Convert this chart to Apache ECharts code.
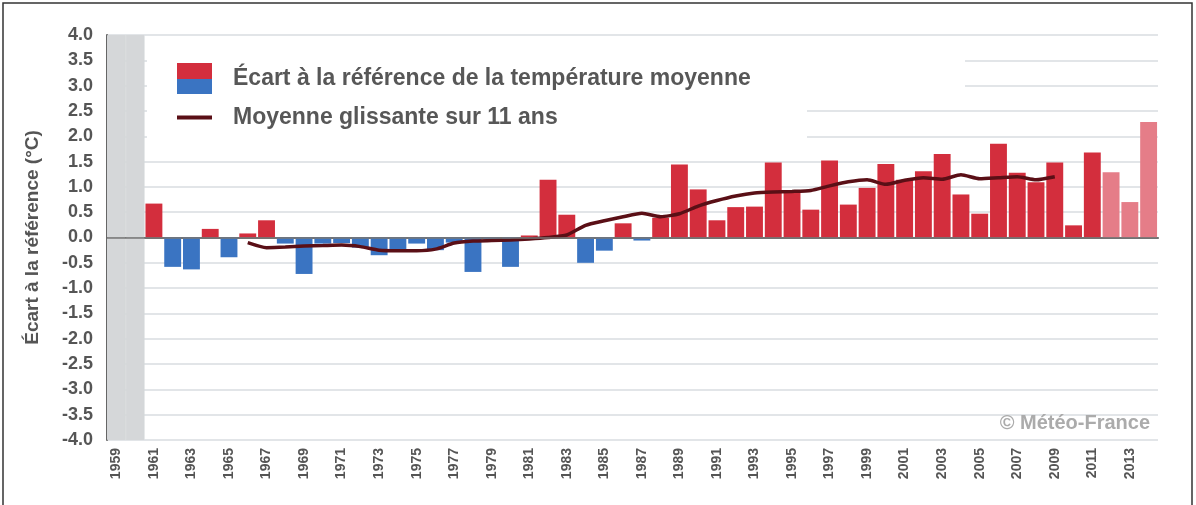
<!DOCTYPE html>
<html>
<head>
<meta charset="utf-8">
<script src="https://cdn.jsdelivr.net/npm/echarts@6/dist/echarts.min.js"></script>
<style>
  html, body { margin: 0; padding: 0; background: #fff; }
  #chart { width: 1196px; height: 505px; }
</style>
</head>
<body>
<div id="chart"></div>
<script>
// années 1959 -> 2014
var years = ['1959','1960','1961','1962','1963','1964','1965','1966','1967','1968',
  '1969','1970','1971','1972','1973','1974','1975','1976','1977','1978',
  '1979','1980','1981','1982','1983','1984','1985','1986','1987','1988',
  '1989','1990','1991','1992','1993','1994','1995','1996','1997','1998',
  '1999','2000','2001','2002','2003','2004','2005','2006','2007','2008',
  '2009','2010','2011','2012','2013','2014'];

// écart à la référence (°C)
var ecart = [null, null, 0.67, -0.58, -0.63, 0.17, -0.39, 0.08, 0.34, -0.12,
  -0.72, -0.12, -0.11, -0.20, -0.35, -0.27, -0.12, -0.25, -0.10, -0.68,
  -0.04, -0.58, 0.04, 1.14, 0.45, -0.50, -0.26, 0.28, -0.06, 0.39,
  1.44, 0.95, 0.34, 0.60, 0.61, 1.48, 0.91, 0.55, 1.52, 0.65,
  0.98, 1.45, 1.14, 1.31, 1.65, 0.85, 0.47, 1.85, 1.28, 1.09,
  1.48, 0.24, 1.68, 1.29, 0.70, 2.28];

// moyenne glissante sur 11 ans
var moyenne = [null, null, null, null, null, null, null, -0.10, -0.20, -0.19,
  -0.17, -0.16, -0.15, -0.18, -0.25, -0.26, -0.26, -0.23, -0.11, -0.07,
  -0.06, -0.05, -0.03, 0.00, 0.05, 0.24, 0.33, 0.41, 0.48, 0.41,
  0.47, 0.62, 0.73, 0.82, 0.88, 0.90, 0.91, 0.93, 1.02, 1.10,
  1.14, 1.05, 1.13, 1.18, 1.15, 1.24, 1.16, 1.18, 1.20, 1.14,
  1.20, null, null, null, null, null];

// années sans données (bande grise)
var noDataYears = ['1959', '1960'];
// années provisoires (rouge clair)
var provisionalYears = ['2012', '2013', '2014'];

var bandTop = years.map(function (y) { return noDataYears.indexOf(y) >= 0 ? 4 : null; });
var bandBottom = years.map(function (y) { return noDataYears.indexOf(y) >= 0 ? -4 : null; });

var RED = '#d32e3d', BLUE = '#3a74c2', LIGHT = '#e57d88', LINE = '#5a0f16', GRAY = '#d5d7d9';
var FONT = 'Liberation Sans';
var NAME_BARS = 'Écart à la référence de la température moyenne';
var NAME_LINE = 'Moyenne glissante sur 11 ans';

var chart = echarts.init(document.getElementById('chart'));

var legendText = { color: '#575757', fontSize: 23, fontWeight: 'bold', fontFamily: FONT, padding: [0, 0, 0, 16] };

var option = {
    animation: false,
    grid: { left: 107, right: 38, top: 35, bottom: 65 },
    legend: [
        {
            left: 177,
            top: 63,
            padding: 0,
            itemWidth: 35,
            itemHeight: 31,
            selectedMode: false,
            textStyle: legendText,
            data: [{
                name: NAME_BARS,
                icon: 'rect',
                itemStyle: {
                    color: new echarts.graphic.LinearGradient(0, 0, 0, 1, [
                        { offset: 0, color: RED }, { offset: 0.5, color: RED },
                        { offset: 0.5, color: BLUE }, { offset: 1, color: BLUE }
                    ])
                }
            }]
        },
        {
            left: 177,
            top: 106,
            padding: 0,
            itemWidth: 35,
            itemHeight: 4,
            selectedMode: false,
            textStyle: legendText,
            data: [{ name: NAME_LINE, icon: 'rect', itemStyle: { color: LINE } }]
        }
    ],
    xAxis: [
        {
            type: 'category',
            data: years,
            axisTick: { show: false },
            axisLine: { lineStyle: { color: '#666', width: 2 } },
            axisLabel: {
                interval: 1,
                rotate: 90,
                color: '#555',
                fontSize: 14,
                fontWeight: 'bold',
                fontFamily: FONT,
                margin: 8
            }
        },
        {
            type: 'category',
            data: years,
            show: false
        }
    ],
    yAxis: {
        type: 'value',
        min: -4,
        max: 4,
        interval: 0.5,
        name: 'Écart à la référence (°C)',
        nameLocation: 'middle',
        nameRotate: 90,
        nameGap: 65,
        nameTextStyle: { color: '#555', fontSize: 19, fontWeight: 'bold', fontFamily: FONT },
        axisTick: { show: false },
        axisLine: { show: true, lineStyle: { color: '#666', width: 2 } },
        axisLabel: {
            color: '#555',
            fontSize: 18,
            fontWeight: 'bold',
            fontFamily: FONT,
            margin: 14,
            formatter: function (v) { return v.toFixed(1); }
        },
        splitLine: { lineStyle: { color: '#d9dce0', width: 1.5 } }
    },
    graphic: [
        // cache les lignes de la grille derrière la légende
        { type: 'rect', z: 1, shape: { x: 147, y: 37, width: 818, height: 62 }, style: { fill: '#fff' } },
        { type: 'rect', z: 1, shape: { x: 147, y: 99, width: 660, height: 50 }, style: { fill: '#fff' } },
        {
            type: 'text', z: 5, right: 46, top: 413,
            style: { text: '© Météo-France', fill: '#ababab', font: 'bold 20px "Liberation Sans"' }
        },
        // cadre
        { type: 'rect', z: 10, shape: { x: 3, y: 3, width: 1189, height: 530 }, style: { fill: 'none', stroke: '#333', lineWidth: 1.5 } }
    ],
    series: [
        {
            name: 'bande',
            type: 'bar',
            xAxisIndex: 1,
            stack: 'bande',
            barWidth: '100%',
            silent: true,
            itemStyle: { color: GRAY, borderColor: GRAY, borderWidth: 1 },
            data: bandTop
        },
        {
            name: 'bande2',
            type: 'bar',
            xAxisIndex: 1,
            stack: 'bande',
            barWidth: '100%',
            silent: true,
            itemStyle: { color: GRAY, borderColor: GRAY, borderWidth: 1 },
            data: bandBottom
        },
        {
            name: NAME_BARS,
            type: 'bar',
            barWidth: '90%',
            z: 3,
            itemStyle: {
                color: function (p) {
                    if (p.value < 0) return BLUE;
                    if (provisionalYears.indexOf(p.name) >= 0) return LIGHT;
                    return RED;
                }
            },
            markLine: {
                silent: true,
                symbol: 'none',
                label: { show: false },
                lineStyle: { color: '#777', width: 1.5, type: 'solid' },
                data: [{ yAxis: 0 }]
            },
            data: ecart
        },
        {
            name: NAME_LINE,
            type: 'line',
            z: 4,
            symbol: 'none',
            smooth: 0.2,
            lineStyle: { color: LINE, width: 3.5 },
            itemStyle: { color: LINE },
            data: moyenne
        }
    ]
};

chart.setOption(option);
</script>
</body>
</html>
